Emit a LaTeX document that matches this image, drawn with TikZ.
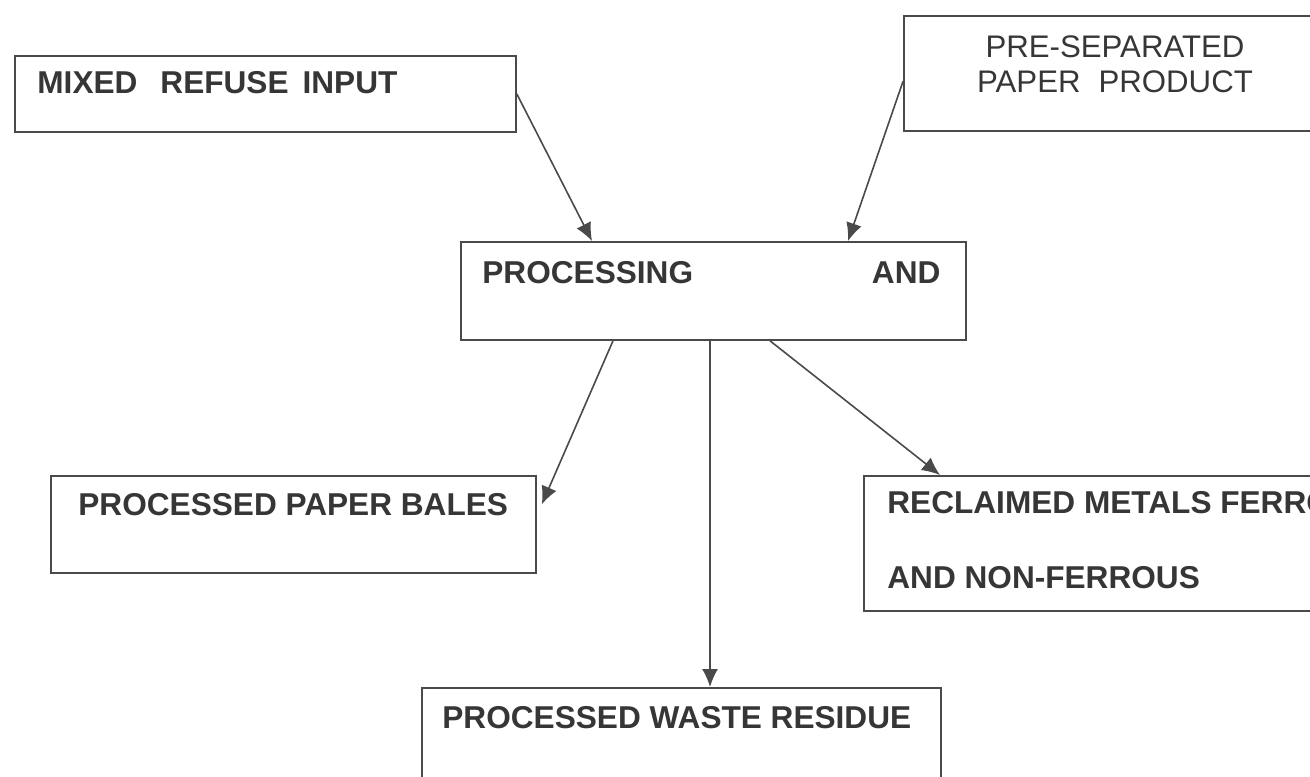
\documentclass[tikz,border=0pt]{standalone}
\usepackage{fontspec}
\setmainfont{Liberation Sans}
\usetikzlibrary{
arrows.meta,
positioning,
calc
}
\definecolor{MRFInk}{HTML}{363636}
\definecolor{MRFLine}{HTML}{4A4A4A}
\tikzset{
mrfbox/.style={draw=MRFLine, line width=0.9pt, inner sep=0pt, anchor=north west},
mrflabel/.style={text=MRFInk, inner sep=0pt, anchor=west,
  font=\fontsize{15.8}{18}\selectfont\bfseries},
mrfplain/.style={text=MRFInk, inner sep=0pt, align=center,
  font=\fontsize{15.6}{17.5}\selectfont},
mrfarrow/.style={-{Latex[length=9pt, width=8pt]}, line width=0.8pt, draw=MRFLine}
}

\begin{document}
\begin{tikzpicture}[x=0.5pt, y=-0.5pt]
\clip (0,0) rectangle (1310,776);

\node[mrfbox, minimum width=250.5pt, minimum height=38pt] (mixed) at (14,55) {};
\node[mrfbox, minimum width=210pt, minimum height=57.5pt] (presep) at (903,15) {};
\node[mrfbox, minimum width=252.5pt, minimum height=49pt] (proc) at (460,241) {};
\node[mrfbox, minimum width=242.5pt, minimum height=48.5pt] (bales) at (50,475) {};
\node[mrfbox, minimum width=230pt, minimum height=67.5pt] (recl) at (863,475) {};
\node[mrfbox, minimum width=259.5pt, minimum height=55pt] (waste) at (421,687) {};

\node[mrflabel] (mixedtxt) at (37,83) {MIXED\hspace{11.5pt}REFUSE\hspace{7pt}INPUT};
\node[mrfplain] (preseptxt) at (1115,64.5) {PRE-SEPARATED\\PAPER\hspace{9pt}PRODUCT};
\node[mrflabel, text width=229pt] (proctxt) at (482,273) {PROCESSING\hfill AND};
\node[mrflabel] (balestxt) at (78,505) {PROCESSED PAPER BALES};
\node[mrflabel, align=left] (recltxt) at (887,540) {RECLAIMED METALS FERROUS\\[19.5pt]AND NON-FERROUS};
\node[mrflabel] (wastetxt) at (442,718) {PROCESSED WASTE RESIDUE};

\coordinate (resdrop) at ($(proc.south west)+(250,0)$);

\draw[mrfarrow] (mixed.east) -- ($(proc.north west)+(132,0)$);
\draw[mrfarrow] ($(presep.west)+(0,8)$) -- ($(proc.north west)+(388,0)$);
\draw[mrfarrow] ($(proc.south west)+(153,0)$) -- ($(bales.east)+(5,-20)$);
\draw[mrfarrow] (resdrop) -- (resdrop |- waste.north);
\draw[mrfarrow] ($(proc.south west)+(310,0)$) -- ($(recl.north west)+(77,0)$);
\end{tikzpicture}
\end{document}
